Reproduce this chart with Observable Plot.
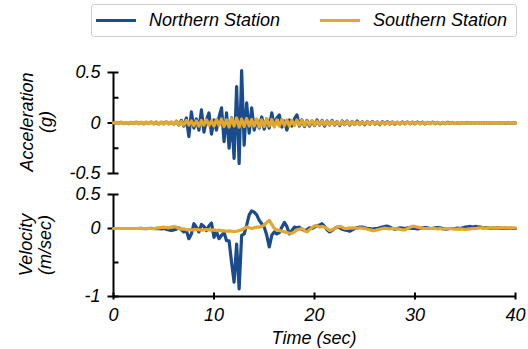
<!DOCTYPE html>
<html><head><meta charset="utf-8">
<script src="https://cdn.jsdelivr.net/npm/d3@7"></script>
<script src="https://cdn.jsdelivr.net/npm/@observablehq/plot@0.6"></script>
<style>
body{margin:0;background:#fff;}
#root{position:relative;width:528px;height:349px;overflow:hidden;font-family:"Liberation Sans",Arial,sans-serif;font-style:italic;font-size:18px;color:#000;}
#legend{position:absolute;left:91px;top:4px;width:424px;height:31px;border:1.5px solid #cfcfcf;border-radius:3px;}
.sw{position:absolute;top:13.5px;width:40px;height:3.5px;}
.lt{position:absolute;top:3px;line-height:24px;white-space:nowrap;}
svg.abs{position:absolute;left:0;}
</style></head><body><div id="root"></div>
<script>
const seriesNames = ["Northern Station", "Southern Station"];
const seriesColors = ["#1a4b8c", "#e2a72e"];
const dt = 0.25; // seconds between samples, t = 0 .. 40
const xTicks = [0, 10, 20, 30, 40];
const accTicks = [-0.5, 0, 0.5];
const accMinor = [-0.25, 0.25];
const velTicks = [-1, 0, 0.5];
const velMinor = [-0.5];

const northAcc = [
  0, 0.004, -0.003, 0.005, -0.004, 0.003, -0.005, 0.004,
  -0.003, 0.006, -0.005, 0.004, -0.006, 0.005, -0.004, 0.007,
  -0.006, 0.005, -0.008, 0.006, -0.005, 0.009, -0.007, 0.006,
  -0.01, 0.015, -0.02, 0.025, -0.03, 0.05, -0.135, 0.11,
  -0.05, 0.04, -0.07, 0.13, -0.09, 0.03, 0.1, -0.11,
  0.03, -0.07, 0.06, 0.15, -0.185, 0.1, -0.25, 0.05,
  -0.35, 0.36, -0.4, 0.52, -0.22, 0.2, -0.1, 0.15,
  -0.07, 0.03, -0.05, 0.06, -0.06, 0.04, -0.05, 0.1,
  -0.03, 0.05, 0.08, -0.04, 0.02, -0.07, 0.03, -0.03,
  0.04, 0.08, -0.03, 0.03, -0.035, 0.025, -0.03, 0.02,
  -0.025, 0.03, -0.02, 0.025, -0.03, 0.02, -0.02, 0.025,
  -0.02, 0.015, -0.025, 0.02, -0.015, 0.02, -0.02, 0.015,
  -0.015, 0.02, -0.015, 0.012, -0.018, 0.015, -0.012, 0.015,
  -0.012, 0.01, -0.015, 0.012, -0.01, 0.012, -0.01, 0.01,
  -0.012, 0.008, -0.01, 0.01, -0.008, 0.01, -0.008, 0.008,
  -0.008, 0.01, -0.007, 0.008, -0.008, 0.007, -0.006, 0.008,
  -0.007, 0.006, -0.008, 0.006, -0.006, 0.007, -0.005, 0.006,
  -0.006, 0.005, -0.006, 0.005, -0.005, 0.006, -0.004, 0.005,
  -0.005, 0.004, -0.005, 0.005, -0.004, 0.005, -0.004, 0.004,
  -0.004, 0.004, -0.003, 0.004, -0.004, 0.003, -0.003, 0.003,
  0
];
const southAcc = [
  0, 0.008, -0.006, 0.01, -0.008, 0.006, -0.01, 0.008,
  -0.007, 0.012, -0.01, 0.009, -0.012, 0.01, -0.008, 0.013,
  -0.01, 0.012, -0.014, 0.01, -0.012, 0.015, -0.01, 0.012,
  -0.015, 0.02, -0.018, 0.015, -0.02, 0.025, -0.02, 0.02,
  -0.025, 0.02, -0.03, 0.025, -0.02, 0.03, -0.025, 0.02,
  -0.03, 0.035, -0.025, 0.04, -0.035, 0.03, -0.04, 0.045,
  -0.03, 0.05, -0.04, 0.04, -0.035, 0.045, -0.03, 0.035,
  -0.03, 0.04, -0.04, 0.03, -0.035, 0.04, -0.03, 0.035,
  -0.04, 0.03, -0.03, 0.035, -0.025, 0.03, -0.03, 0.025,
  -0.025, 0.03, -0.02, 0.025, -0.025, 0.02, -0.02, 0.025,
  -0.02, 0.018, -0.015, 0.02, -0.018, 0.015, -0.017, 0.018,
  -0.015, 0.012, -0.016, 0.015, -0.012, 0.015, -0.013, 0.012,
  -0.012, 0.011, -0.013, 0.01, -0.011, 0.012, -0.01, 0.011,
  -0.01, 0.01, -0.011, 0.008, -0.01, 0.009, -0.008, 0.01,
  -0.008, 0.008, -0.009, 0.007, -0.008, 0.008, -0.007, 0.008,
  -0.007, 0.006, -0.008, 0.007, -0.006, 0.007, -0.006, 0.006,
  -0.006, 0.006, -0.005, 0.006, -0.006, 0.005, -0.005, 0.006,
  -0.005, 0.005, -0.004, 0.005, -0.005, 0.004, -0.004, 0.005,
  -0.004, 0.004, -0.004, 0.004, -0.004, 0.004, -0.004, 0.004,
  -0.004, 0.004, -0.003, 0.004, -0.003, 0.003, -0.003, 0.003,
  0
];
const northVel = [
  0, 0, 0, 0, 0, 0, 0, 0,
  0, 0, 0, 0.002, 0, -0.002, 0, 0.002,
  0, -0.003, 0.002, -0.005, 0, -0.01, -0.02, -0.03,
  -0.02, -0.01, 0.01, -0.02, -0.05, -0.03, -0.15, -0.08,
  0.07, 0.02, -0.05, 0.06, 0.03, -0.03, 0.04, 0.08,
  -0.13, -0.05, -0.15, -0.1, -0.06, -0.18, -0.18, -0.5,
  -0.79, -0.23, -0.89, -0.1, -0.08, 0.05, 0.2, 0.26,
  0.24, 0.2, 0.12, 0.07, 0.02, -0.1, -0.27, -0.1,
  -0.05, -0.08, -0.06, 0.02, 0.09, 0.03, -0.08, -0.03,
  0.02, 0.01, 0.02, -0.01, -0.03, -0.02, 0.01, 0,
  0.02, 0.04, 0.05, 0.07, 0.03, -0.02, -0.05, -0.03,
  0, 0.02, 0.01, -0.01, -0.02, -0.03, -0.04, -0.02,
  0, 0.01, 0.02, 0.02, 0.01, 0, 0, -0.01,
  0, 0, 0.01, 0.02, 0.03, 0.035, 0.02, 0,
  -0.01, 0, 0.01, 0.005, 0, 0.01, 0.005, 0,
  0, -0.005, 0, 0.01, 0.015, 0.01, 0, 0,
  0.01, 0.015, 0.01, 0, -0.01, -0.005, 0, 0,
  0, 0.005, 0, 0.01, 0.02, 0.025, 0.03, 0.02,
  0.03, 0.025, 0.02, 0.01, 0.015, 0.01, 0.005, 0.01,
  0.005, 0.01, 0.005, 0, 0.005, 0, 0.005, 0,
  0
];
const southVel = [
  0, 0, 0, 0, 0, 0, 0, 0,
  0, 0, 0.002, 0, -0.002, 0, 0.003, 0,
  -0.003, 0.005, 0.01, 0.015, 0.02, 0.015, 0.01, 0.02,
  0.03, 0.02, 0, -0.01, -0.005, -0.02, -0.015, -0.02,
  -0.02, -0.015, -0.02, -0.025, -0.02, -0.015, -0.02, -0.025,
  -0.02, -0.03, -0.025, -0.03, -0.035, -0.04, -0.035, -0.04,
  -0.045, -0.04, -0.03, -0.02, 0, 0.02, 0.01, 0,
  0.01, 0.02, 0.02, 0.03, 0.05, 0.09, 0.12, 0.06,
  0, -0.02, -0.03, -0.04, -0.05, -0.06, -0.07, -0.07,
  -0.05, -0.02, -0.01, 0, -0.03, -0.05, -0.02, 0.01,
  0.04, 0.04, 0.02, 0.03, 0.02, 0, -0.03, -0.02,
  0, 0.02, 0.03, 0.02, 0, 0, 0.01, 0.005,
  0.01, 0, 0.01, 0.005, 0, -0.01, -0.02, -0.03,
  -0.03, -0.02, -0.01, 0, 0.005, 0, -0.005, 0,
  0, -0.005, -0.01, -0.02, -0.02, 0, 0.02, 0.03,
  0.03, 0.02, 0.01, 0.005, 0, 0, 0, 0.005,
  0, -0.005, 0, -0.01, -0.005, 0, 0, -0.005,
  -0.01, -0.01, -0.005, -0.01, -0.015, -0.01, -0.005, 0,
  0, 0.005, 0.01, 0.01, 0.005, 0.01, 0.015, 0.01,
  0.01, 0.01, 0.015, 0.01, 0.01, 0.01, 0.005, 0.01,
  0.01
];

const toRows = (vals) => vals.map((v, i) => ({t: i * dt, v}));
const fmt = d => String(d);
const font = '"Liberation Sans", Arial, sans-serif';
const baseStyle = {fontFamily: font, fontSize: "18px", fontStyle: "italic", background: "transparent", overflow: "visible", color: "#000"};
const lw = 3.2;

const root = document.getElementById("root");

// Legend
const legend = document.createElement("div");
legend.id = "legend";
const swX = [4, 228], txX = [57, 281];
seriesNames.forEach((name, i) => {
  const sw = document.createElement("div");
  sw.className = "sw"; sw.style.left = swX[i] + "px"; sw.style.background = seriesColors[i];
  const tx = document.createElement("div");
  tx.className = "lt"; tx.style.left = txX[i] + "px"; tx.textContent = name;
  legend.append(sw, tx);
});
root.append(legend);

// Acceleration panel
const accPlot = Plot.plot({
  width: 528, height: 185,
  marginLeft: 113, marginRight: 13, marginTop: 72, marginBottom: 12,
  x: {domain: [0, 40], axis: null},
  y: {domain: [-0.5, 0.5], axis: null},
  style: baseStyle,
  marks: [
    Plot.ruleX([0], {stroke: "#000", strokeWidth: 2}),
    Plot.axisY(accTicks, {tickSize: 11, dx: 5.5, strokeWidth: 2, fill: "none", label: null}),
    Plot.axisY(accMinor, {tickSize: 5.5, dx: 5.5, strokeWidth: 2, fill: "none", label: null}),
    Plot.axisY(accTicks, {tickSize: 0, tickPadding: 13, tickFormat: fmt, label: null, fill: "#000"}),
    Plot.line(toRows(northAcc), {x: "t", y: "v", stroke: seriesColors[0], strokeWidth: lw}),
    Plot.line(toRows(southAcc), {x: "t", y: "v", stroke: seriesColors[1], strokeWidth: lw})
  ]
});
accPlot.classList.add("abs"); accPlot.style.top = "0px";
root.append(accPlot);

// Velocity panel
const velPlot = Plot.plot({
  width: 528, height: 164,
  marginLeft: 113, marginRight: 13, marginTop: 9, marginBottom: 53,
  x: {domain: [0, 40], axis: null},
  y: {domain: [-1, 0.5], axis: null},
  style: baseStyle,
  marks: [
    Plot.ruleX([0], {stroke: "#000", strokeWidth: 2}),
    Plot.ruleY([-1], {stroke: "#000", strokeWidth: 2}),
    Plot.axisY(velTicks, {tickSize: 11, dx: 5.5, strokeWidth: 2, fill: "none", label: null}),
    Plot.axisY(velMinor, {tickSize: 5.5, dx: 5.5, strokeWidth: 2, fill: "none", label: null}),
    Plot.axisY(velTicks, {tickSize: 0, tickPadding: 13, tickFormat: fmt, label: null, fill: "#000"}),
    Plot.axisX(xTicks, {tickSize: 7, dy: -3.5, strokeWidth: 2, fill: "none", label: null}),
    Plot.axisX(xTicks, {tickSize: 0, tickPadding: 12, tickFormat: fmt, label: null, fill: "#000"}),
    Plot.line(toRows(northVel), {x: "t", y: "v", stroke: seriesColors[0], strokeWidth: lw}),
    Plot.line(toRows(southVel), {x: "t", y: "v", stroke: seriesColors[1], strokeWidth: lw})
  ]
});
velPlot.classList.add("abs"); velPlot.style.top = "185px";
root.append(velPlot);

// Axis titles
const ns = "http://www.w3.org/2000/svg";
const titles = document.createElementNS(ns, "svg");
titles.setAttribute("width", 528); titles.setAttribute("height", 349);
titles.setAttribute("class", "abs"); titles.style.top = "0px";
titles.setAttribute("font-family", font); titles.setAttribute("font-size", 18); titles.setAttribute("font-style", "italic");
const addText = (str, x, y, rot) => {
  const t = document.createElementNS(ns, "text");
  t.setAttribute("text-anchor", "middle");
  t.setAttribute("transform", `translate(${x},${y})` + (rot ? " rotate(-90)" : ""));
  t.textContent = str;
  titles.append(t);
};
addText("Acceleration", 33, 122, true);
addText("(g)", 52, 122, true);
addText("Velocity", 32, 245, true);
addText("(m/sec)", 51, 245, true);
addText("Time (sec)", 314, 344, false);
root.append(titles);
</script></body></html>
